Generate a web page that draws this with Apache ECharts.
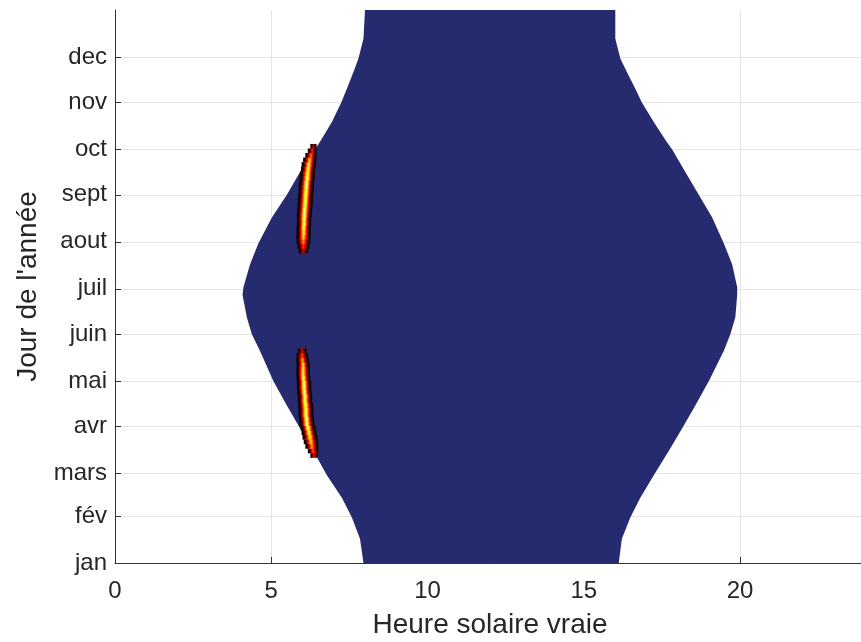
<!DOCTYPE html>
<html><head><meta charset="utf-8">
<script src="https://cdn.jsdelivr.net/npm/echarts@6/dist/echarts.min.js"></script>
<style>html,body{margin:0;padding:0;background:#fff}#c{width:861px;height:642px}</style>
</head><body><div id="c"></div>
<script>
// Tick labels (y: first day of each month, x: hours)
const monthNames = ['jan','fév','mars','avr','mai','juin','juil','aout','sept','oct','nov','dec'];
const monthDays  = [1, 32, 60, 91, 121, 152, 182, 213, 244, 274, 305, 335];
const hourTicks  = [0, 5, 10, 15, 20];

// Daylight band: sunrise / sunset (true solar hour) by day of year
const edgeDays = [1, 17, 31, 44, 59, 75, 90, 105, 121, 141, 152, 163, 178, 183, 198, 212, 229, 244, 259, 274, 279, 292, 305, 314, 325, 334, 347, 366];
const sunrise  = [7.95, 7.84, 7.58, 7.26, 6.78, 6.35, 5.92, 5.50, 5.07, 4.64, 4.38, 4.22, 4.08, 4.11, 4.32, 4.59, 5.02, 5.50, 5.92, 6.40, 6.56, 6.94, 7.24, 7.42, 7.63, 7.79, 7.95, 8.00];
const sunset   = [16.12, 16.22, 16.49, 16.81, 17.24, 17.72, 18.15, 18.57, 19.00, 19.48, 19.69, 19.85, 19.91, 19.91, 19.75, 19.48, 19.11, 18.68, 18.25, 17.83, 17.65, 17.24, 16.86, 16.65, 16.38, 16.17, 16.01, 16.01];

// Spring hot streak: day, centre hour, half width (h), intensity (0-1)
const springDays  = [72, 75, 78, 81, 84, 87, 90, 93, 96, 99, 102, 105, 108, 111, 114, 117, 120, 123, 126, 129, 132, 135, 138, 141];
const springHour  = [6.37, 6.34, 6.30, 6.27, 6.24, 6.21, 6.18, 6.14, 6.13, 6.11, 6.11, 6.10, 6.08, 6.08, 6.06, 6.05, 6.05, 6.03, 6.02, 6.02, 6.02, 6.00, 5.99, 5.99];
const springWidth = [0.12, 0.17, 0.21, 0.23, 0.24, 0.24, 0.24, 0.24, 0.24, 0.24, 0.24, 0.24, 0.23, 0.23, 0.23, 0.23, 0.23, 0.22, 0.22, 0.22, 0.21, 0.20, 0.18, 0.14];
const springPeak  = [0.35, 0.50, 0.62, 0.72, 0.80, 0.85, 0.88, 0.90, 0.90, 0.90, 0.90, 0.90, 0.90, 0.90, 0.90, 0.90, 0.88, 0.86, 0.82, 0.78, 0.72, 0.62, 0.48, 0.30];

// Autumn hot streak
const autumnDays  = [207, 210, 213, 216, 219, 222, 225, 228, 231, 234, 237, 240, 243, 246, 249, 252, 255, 258, 261, 264, 267, 270, 273, 276];
const autumnHour  = [6.03, 6.03, 6.03, 6.03, 6.04, 6.04, 6.05, 6.05, 6.06, 6.07, 6.08, 6.09, 6.10, 6.11, 6.12, 6.13, 6.15, 6.16, 6.18, 6.20, 6.23, 6.27, 6.31, 6.35];
const autumnWidth = [0.15, 0.19, 0.22, 0.23, 0.23, 0.23, 0.23, 0.23, 0.24, 0.24, 0.24, 0.24, 0.24, 0.24, 0.24, 0.24, 0.24, 0.24, 0.23, 0.23, 0.21, 0.18, 0.14, 0.10];
const autumnPeak  = [0.30, 0.45, 0.60, 0.72, 0.80, 0.85, 0.88, 0.90, 0.90, 0.90, 0.90, 0.90, 0.90, 0.90, 0.90, 0.90, 0.90, 0.88, 0.85, 0.80, 0.70, 0.55, 0.40, 0.25];

const BLUE = '#262a6e';
const FONT = "'Liberation Sans', Arial, sans-serif";
const INK = '#262626';

function hot(t) {
  t = Math.max(0, Math.min(1, t));
  const r = Math.min(1, 0.04 + t / 0.375);
  const g = Math.max(0, Math.min(1, (t - 0.375) / 0.375));
  const b = Math.max(0, Math.min(1, (t - 0.75) / 0.25));
  return 'rgb(' + Math.round(r * 255) + ',' + Math.round(g * 255) + ',' + Math.round(b * 255) + ')';
}

function renderBand(params, api) {
  if (params.dataIndexInside !== 0) return null;
  const n = params.dataInsideLength;
  const left = [], right = [];
  for (let j = 0; j < n; j++) {
    const d = api.value(0, j);
    left.push(api.coord([api.value(1, j), d]));
    right.push(api.coord([api.value(2, j), d]));
  }
  const pts = left.concat(right.reverse());
  return { type: 'polygon', shape: { points: pts }, style: { fill: BLUE } };
}

function renderStreak(params, api) {
  const d = api.value(0), h = api.value(1), w = api.value(2), p = api.value(3);
  const tl = api.coord([h - w, d + 1.6]);
  const br = api.coord([h + w, d - 1.6]);
  const fill = new echarts.graphic.LinearGradient(0, 0, 1, 0, [
    { offset: 0, color: hot(0.0) },
    { offset: 0.16, color: hot(0.05) },
    { offset: 0.3, color: hot(p * 0.45) },
    { offset: 0.42, color: hot(p * 0.8) },
    { offset: 0.5, color: hot(p) },
    { offset: 0.58, color: hot(p * 0.8) },
    { offset: 0.7, color: hot(p * 0.45) },
    { offset: 0.84, color: hot(0.05) },
    { offset: 1, color: hot(0.0) }
  ]);
  return { type: 'rect', shape: { x: tl[0], y: tl[1], width: br[0] - tl[0], height: br[1] - tl[1] }, style: { fill: fill } };
}

const chart = echarts.init(document.getElementById('c'), null, { renderer: 'canvas' });
chart.setOption({
  animation: false,
  backgroundColor: '#ffffff',
  grid: { left: 115, top: 10, width: 750, height: 553, containLabel: false, outerBoundsMode: 'none' },
  xAxis: {
    type: 'value', min: 0, max: 24, interval: 5,
    name: 'Heure solaire vraie', nameLocation: 'middle', nameGap: 48,
    nameTextStyle: { fontFamily: FONT, fontSize: 28, color: INK },
    axisLine: { show: true, lineStyle: { color: '#333', width: 1 } },
    axisTick: { show: true, inside: true, length: 6, lineStyle: { color: '#333' }, customValues: hourTicks },
    axisLabel: { fontFamily: FONT, fontSize: 24, color: INK, margin: 16, customValues: hourTicks },
    splitLine: { show: true, lineStyle: { color: '#e4e4e4', width: 1 } }
  },
  yAxis: {
    type: 'value', min: 1, max: 366,
    name: "Jour de l'année", nameLocation: 'middle', nameGap: 70, nameRotate: 90,
    nameTextStyle: { fontFamily: FONT, fontSize: 28, color: INK },
    axisLine: { show: true, lineStyle: { color: '#333', width: 1 } },
    axisTick: { show: true, inside: true, length: 6, lineStyle: { color: '#333' }, customValues: monthDays },
    axisLabel: {
      fontFamily: FONT, fontSize: 24, color: INK, margin: 8, customValues: monthDays,
      formatter: function (v) { const k = monthDays.indexOf(v); return k >= 0 ? monthNames[k] : ''; }
    },
    splitLine: { show: true, lineStyle: { color: '#e4e4e4', width: 1 } }
  },
  series: [
    {
      type: 'custom', renderItem: renderBand, z: 2,
      encode: { x: [1, 2], y: 0 },
      data: edgeDays.map((d, i) => [d, sunrise[i], sunset[i]])
    },
    {
      type: 'custom', renderItem: renderStreak, z: 3,
      encode: { x: 1, y: 0 },
      data: springDays.map((d, i) => [d, springHour[i], springWidth[i], springPeak[i]])
    },
    {
      type: 'custom', renderItem: renderStreak, z: 3,
      encode: { x: 1, y: 0 },
      data: autumnDays.map((d, i) => [d, autumnHour[i], autumnWidth[i], autumnPeak[i]])
    }
  ]
});
</script>
</body></html>
